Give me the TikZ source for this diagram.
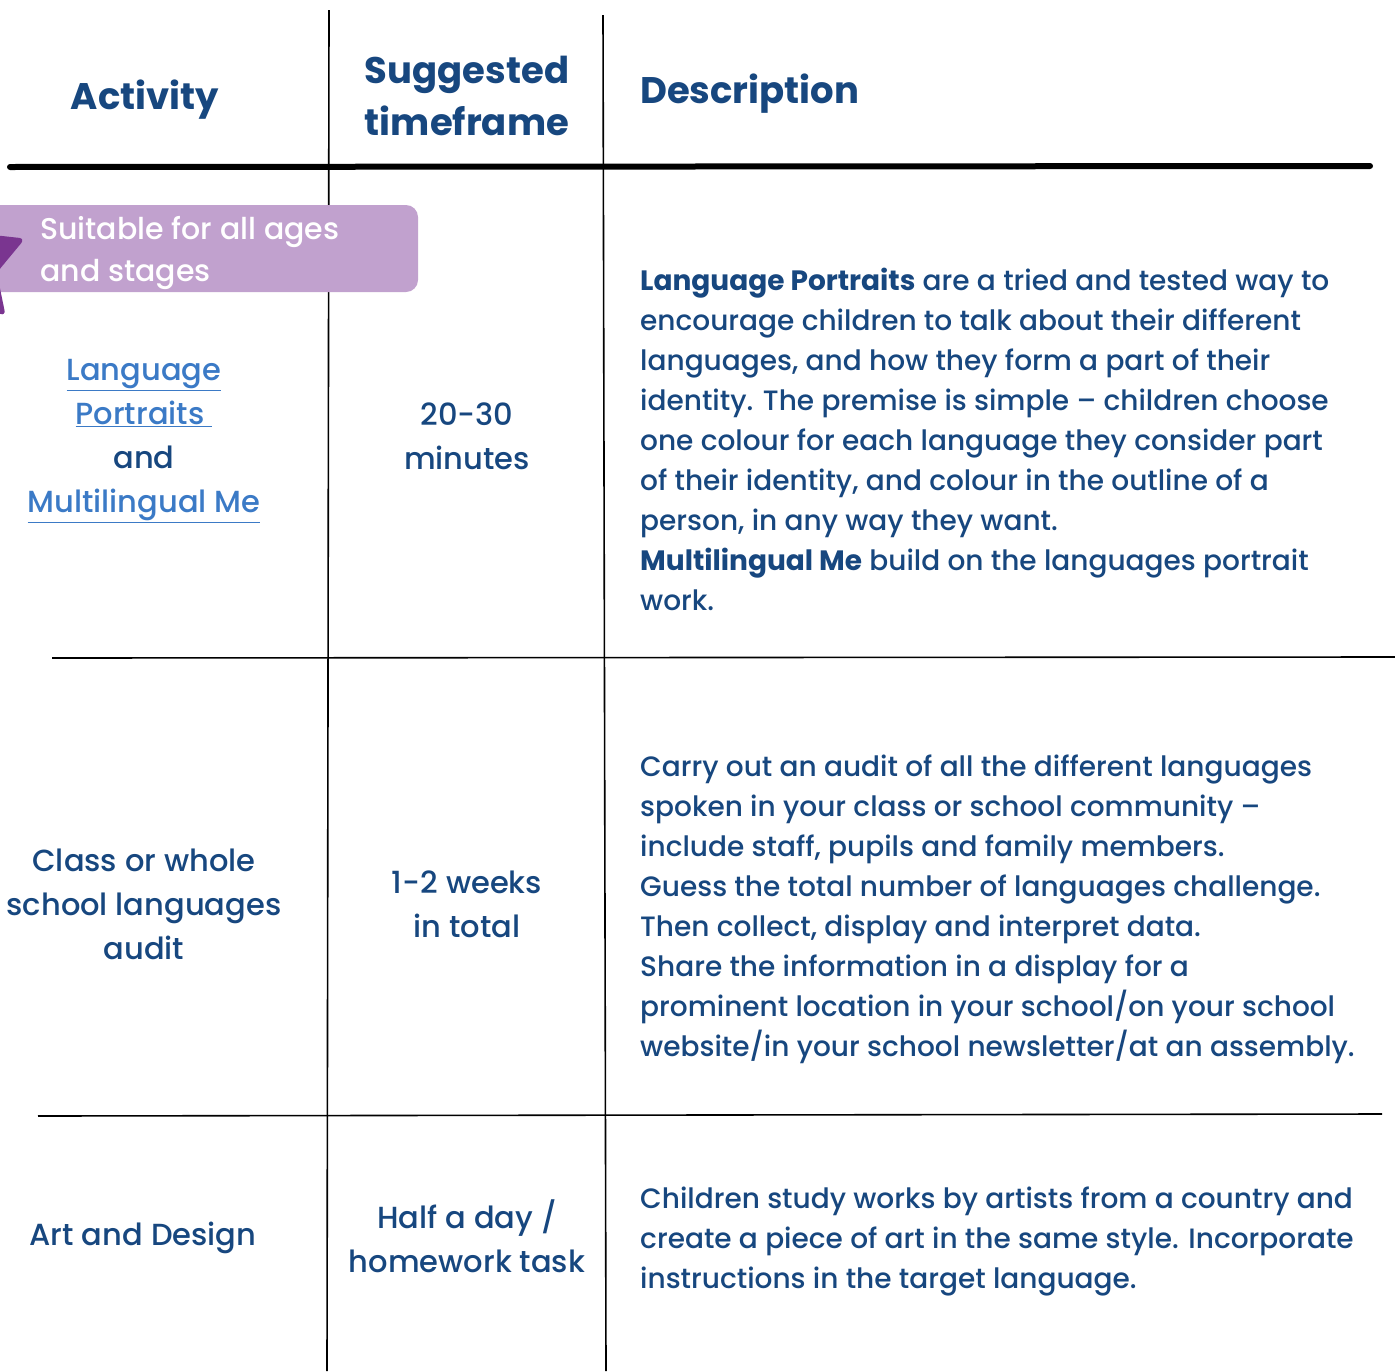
\documentclass[tikz,border=0pt]{standalone}
\usepackage{fontspec}
\setmainfont{Poppins}[UprightFont={Poppins Medium}, BoldFont={Poppins Bold}]
\usetikzlibrary{shapes.geometric}
\definecolor{ink}{HTML}{17477F}
\definecolor{linkblue}{HTML}{3B7AC6}
\definecolor{taglilac}{HTML}{C1A1CE}
\definecolor{tagstar}{HTML}{7A3590}
\begin{document}
\begin{tikzpicture}[x=1pt, y=-1pt,
    rule/.style={black, line width=1.6pt},
    headrule/.style={black, line width=6pt, line cap=round},
    headtext/.style={text=ink, font=\bfseries\fontsize{37}{52}\selectfont, align=center, inner sep=0pt},
    celltext/.style={text=ink, font=\fontsize{30.5}{44}\selectfont, align=center, inner sep=0pt},
    desctext/.style={text=ink, font=\fontsize{28}{40}\selectfont, align=left, anchor=west, inner sep=0pt},
    linktext/.style={text=linkblue}]
  \clip (0,0) rectangle (1395,1371);
  \fill[white] (0,0) rectangle (1395,1371);

  % table rules
  \draw[rule] (329,10) -- (327,1371);
  \draw[rule] (603,15) -- (606,1371);
  \draw[headrule] (10,167) -- (1370,166);
  \draw[rule] (52,658) -- (1395,657);
  \draw[rule] (38,1116) -- (1382,1114);

  % header
  \node[headtext] (activityhead) at (145,100) {Activity};
  \node[headtext] (timehead) at (467,96) {Suggested\\timeframe};
  \node[headtext, anchor=west] (deschead) at (640,94) {Description};

  % age tag
  \fill[taglilac, rounded corners=12pt] (-30,205) rectangle (418,292);
  \node[star, star points=5, star point ratio=1.9, fill=tagstar, rounded corners=6pt,
    minimum size=136pt, rotate=4] (tagstar) at (-38,264) {};
  \node[text=white, font=\fontsize{30}{42}\selectfont, align=left, anchor=west, inner sep=0pt]
    (tagtext) at (40,253) {Suitable for all ages\\and stages};

  % row 1
  \node[celltext] (portraits) at (144,441)
    {\textcolor{linkblue}{\underline{Language}}\\
     \textcolor{linkblue}{\underline{Portraits\ }}\\
     and\\
     \textcolor{linkblue}{\underline{Multilingual Me}}};
  \node[celltext] (portraitstime) at (467,436) {20-30\\minutes};
  \node[desctext] (portraitsdesc) at (640,439)
    {\textbf{Language Portraits} are a tried and tested way to\\
     encourage children to talk about their different\\
     languages, and how they form a part of their\\
     identity. The premise is simple – children choose\\
     one colour for each language they consider part\\
     of their identity, and colour in the outline of a\\
     person, in any way they want.\\
     \textbf{Multilingual Me} build on the languages portrait\\
     work.};

  % row 2
  \node[celltext] (audit) at (144,904) {Class or whole\\school languages\\audit};
  \node[celltext] (audittime) at (467,904) {1-2 weeks\\in total};
  \node[desctext] (auditdesc) at (640,909)
    {Carry out an audit of all the different languages\\
     spoken in your class or school community –\\
     include staff, pupils and family members.\\
     Guess the total number of languages challenge.\\
     Then collect, display and interpret data.\\
     Share the information in a display for a\\
     prominent location in your school/on your school\\
     website/in your school newsletter/at an assembly.};

  % row 3
  \node[celltext] (art) at (143,1238) {Art and Design};
  \node[celltext] (arttime) at (467,1236) {Half a day /\\homework task};
  \node[desctext] (artdesc) at (640,1241)
    {Children study works by artists from a country and\\
     create a piece of art in the same style. Incorporate\\
     instructions in the target language.};
\end{tikzpicture}
\end{document}
